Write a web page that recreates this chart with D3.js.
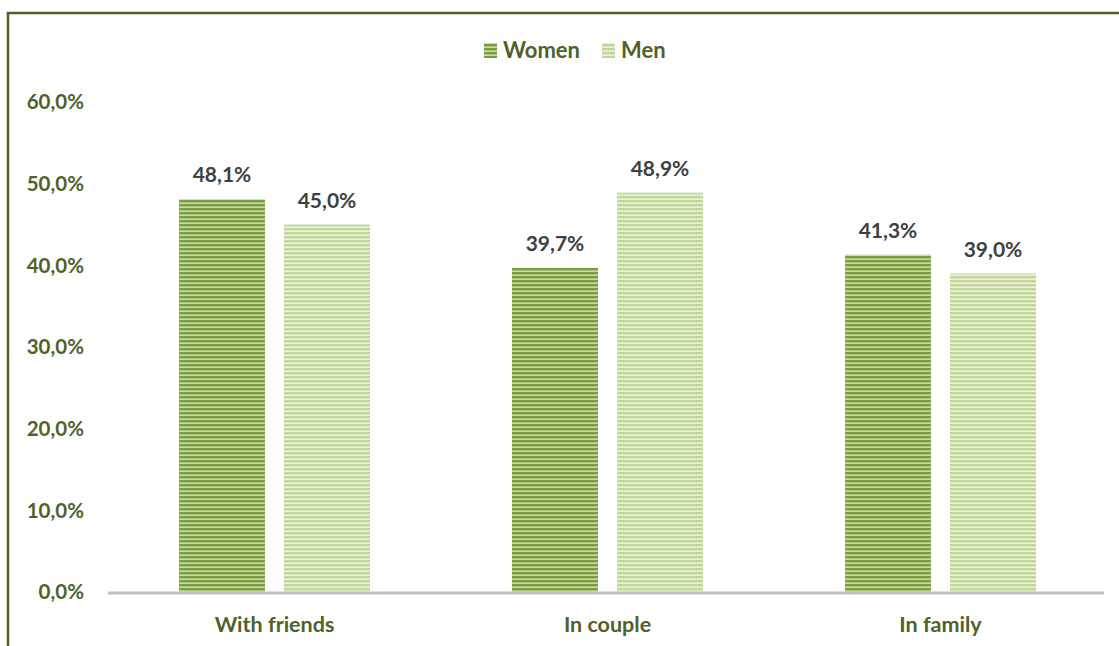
<!DOCTYPE html>
<html><head><meta charset="utf-8">
<script src="https://cdn.jsdelivr.net/npm/d3@7"></script>
<style>body{margin:0;background:#fff}svg{display:block}</style>
</head><body>
<svg id="c" width="1119" height="646"></svg>
<script>
const categories = ["With friends", "In couple", "In family"];
const seriesNames = ["Women", "Men"];
const women = [48.1, 39.7, 41.3];
const men = [45.0, 48.9, 39.0];
const yTicks = [0, 10, 20, 30, 40, 50, 60];

const svg = d3.select("#c");
const font = "Lato, 'Open Sans', sans-serif";
const green = "#4f6228";

// border
svg.append("path").attr("d","M8,646 L8,13 L1119,13").attr("fill","none").attr("stroke",green).attr("stroke-width",2.5);

const defs = svg.append("defs");
function stripes(id, c1, c2){
  const p = defs.append("pattern").attr("id",id).attr("patternUnits","userSpaceOnUse").attr("width",8).attr("height",4);
  p.append("rect").attr("width",8).attr("height",4).attr("fill",c2);
  p.append("rect").attr("width",8).attr("height",2.4).attr("fill",c1);
}
stripes("pw","#7c9c42","#c9dcaa");
stripes("pm","#c3d69b","#eaf1dd");
const fills = ["url(#pw)","url(#pm)"];

const x0 = d3.scaleBand().domain(categories).range([108,1107]);
const x1 = d3.scaleBand().domain(seriesNames).range([71,262]).paddingInner(0.181);
const y = d3.scaleLinear().domain([0,60]).range([592,102]);

// y tick labels
svg.append("g").selectAll("text").data(yTicks).join("text")
  .attr("x",84).attr("y",d=>y(d)).attr("dy","0.36em").attr("text-anchor","end")
  .attr("font-family",font).attr("font-weight","bold").attr("font-size",20.5).attr("fill",green)
  .text(d=>d.toFixed(1).replace(".",",")+"%");

const data = categories.map((c,i)=>({c, vals:[women[i], men[i]]}));
const bars = [];
data.forEach(d=>d.vals.forEach((v,j)=>bars.push({c:d.c, s:seriesNames[j], v, j})));
const g = svg.append("g");
g.selectAll("rect").data(bars).join("rect")
  .attr("x",d=>x0(d.c)+x1(d.s)).attr("width",x1.bandwidth())
  .attr("y",d=>y(d.v)).attr("height",d=>y(0)-y(d.v))
  .attr("fill",d=>fills[d.j]);

g.selectAll("text").data(bars).join("text")
  .attr("x",d=>x0(d.c)+x1(d.s)+x1.bandwidth()/2).attr("y",d=>y(d.v)-17)
  .attr("text-anchor","middle").attr("font-family",font).attr("font-weight","bold")
  .attr("font-size",21).attr("fill","#404040")
  .text(d=>d.v.toFixed(1).replace(".",",")+"%");

// x axis line
svg.append("line").attr("x1",108).attr("x2",1104).attr("y1",y(0)+1).attr("y2",y(0)+1)
  .attr("stroke","#bfbfbf").attr("stroke-width",3);

// category labels
svg.append("g").selectAll("text").data(categories).join("text")
  .attr("x",d=>x0(d)+x0.bandwidth()/2).attr("y",632).attr("text-anchor","middle")
  .attr("font-family",font).attr("font-weight","bold").attr("font-size",21.5).attr("fill",green)
  .text(d=>d);

// legend
const leg = svg.append("g");
const legX = [484, 602];
seriesNames.forEach((s,i)=>{
  leg.append("rect").attr("x",legX[i]).attr("y",43).attr("width",13).attr("height",15).attr("fill",fills[i]);
  leg.append("text").attr("x",legX[i]+19).attr("y",58).attr("font-family",font).attr("font-weight","bold")
    .attr("font-size",22).attr("fill",green).text(s);
});
</script>
</body></html>
